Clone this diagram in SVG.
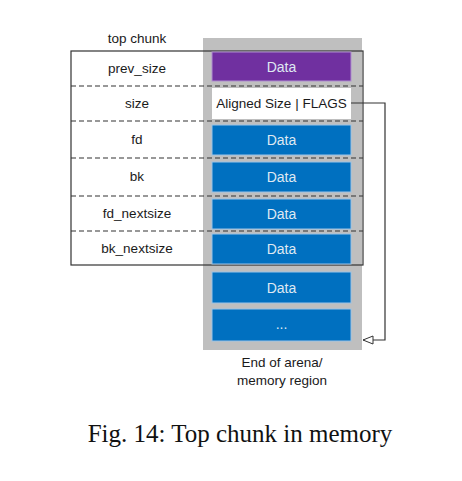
<svg xmlns="http://www.w3.org/2000/svg" width="462" height="481" viewBox="0 0 462 481">
<defs>
<style>
.lbl{font-family:"Liberation Sans",Arial,sans-serif;font-size:13.5px;fill:#1a1a1a;text-anchor:middle}
.dt{font-family:"Liberation Sans",Arial,sans-serif;font-size:14px;fill:#dfe8f2;text-anchor:middle}
.blue{fill:#0070c0;stroke:#9cc3e6;stroke-width:1}
.dash{stroke:#333;stroke-width:1.2;stroke-dasharray:5 3;fill:none}
.cap{font-family:"Liberation Serif","Times New Roman",serif;font-size:25px;fill:#111;text-anchor:middle}
</style>
<marker id="tri" viewBox="0 0 12 10" refX="11" refY="5" markerWidth="12" markerHeight="10" markerUnits="userSpaceOnUse" orient="auto">
<path d="M1,1 L11,5 L1,9 Z" fill="#fff" stroke="#333" stroke-width="1"/>
</marker>
</defs>
<rect width="462" height="481" fill="#fff"/>
<g id="memory-column">
<rect x="203" y="38" width="159" height="312" fill="#bfbfbf"/>
</g>
<g id="chunk-frame">
<rect x="71" y="51" width="292" height="214" fill="none" stroke="#333" stroke-width="1.2"/>
<path class="dash" d="M71,86H363M71,121H363M71,158H363M71,196H363M71,231H363"/>
</g>
<g id="prev_size">
<text class="lbl" x="137" y="73">prev_size</text>
<rect x="212" y="52" width="139" height="29" fill="#7030a0" stroke="#b08fd0"/>
<text class="dt" x="281.5" y="71.5">Data</text>
</g>
<g id="size">
<text class="lbl" x="137" y="108">size</text>
<rect x="212" y="88" width="139" height="31" fill="#fff"/>
<text class="lbl" x="281.5" y="108">Aligned Size | FLAGS</text>
</g>
<g id="fd">
<text class="lbl" x="137" y="144">fd</text>
<rect class="blue" x="212" y="125" width="139" height="30"/>
<text class="dt" x="281.5" y="145">Data</text>
</g>
<g id="bk">
<text class="lbl" x="137" y="181">bk</text>
<rect class="blue" x="212" y="162" width="139" height="30"/>
<text class="dt" x="281.5" y="182">Data</text>
</g>
<g id="fd_nextsize">
<text class="lbl" x="137" y="218">fd_nextsize</text>
<rect class="blue" x="212" y="199" width="139" height="30"/>
<text class="dt" x="281.5" y="219">Data</text>
</g>
<g id="bk_nextsize">
<text class="lbl" x="137" y="253">bk_nextsize</text>
<rect class="blue" x="212" y="234" width="139" height="30"/>
<text class="dt" x="281.5" y="254">Data</text>
</g>
<g id="data-extra">
<rect class="blue" x="212" y="272" width="139" height="31"/>
<text class="dt" x="281.5" y="292.5">Data</text>
</g>
<g id="data-more">
<rect class="blue" x="212" y="309" width="139" height="32"/>
<text class="dt" x="281.5" y="329">...</text>
</g>
<g id="labels">
<text class="lbl" x="137" y="43">top chunk</text>
<text class="lbl" x="282" y="367">End of arena/</text>
<text class="lbl" x="282" y="385">memory region</text>
</g>
<g id="connectors">
<path d="M351,103H385V340H363" fill="none" stroke="#333" stroke-width="1.2" marker-end="url(#tri)"/>
</g>
<text class="cap" x="240" y="442">Fig. 14: Top chunk in memory</text>
</svg>
